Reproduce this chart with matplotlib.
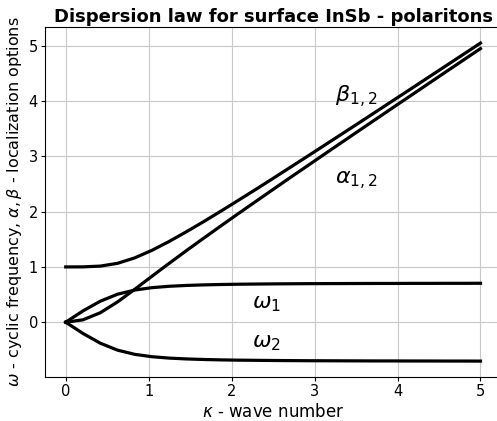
import matplotlib
matplotlib.use("Agg")
import matplotlib.pyplot as plt

# wave number samples and curves
kappa = [0.0, 0.208, 0.417, 0.625, 0.833, 1.042, 1.25, 1.458, 1.667, 1.875,
         2.083, 2.292, 2.5, 2.708, 2.917, 3.125, 3.333, 3.542, 3.75, 3.958,
         4.167, 4.375, 4.583, 4.792, 5.0]
omega1 = [0.0, 0.204, 0.380, 0.506, 0.582, 0.625, 0.650, 0.665, 0.675, 0.682,
          0.687, 0.690, 0.693, 0.695, 0.697, 0.698, 0.699, 0.700, 0.701, 0.701,
          0.702, 0.702, 0.703, 0.703, 0.704]
omega2 = [-v for v in omega1]
alpha = [0.0, 0.043, 0.171, 0.367, 0.596, 0.834, 1.068, 1.298, 1.524, 1.747,
         1.967, 2.185, 2.402, 2.618, 2.832, 3.046, 3.259, 3.472, 3.684, 3.896,
         4.107, 4.318, 4.529, 4.740, 4.950]
beta = [1.0, 1.001, 1.015, 1.065, 1.164, 1.302, 1.463, 1.639, 1.823, 2.013,
        2.207, 2.403, 2.602, 2.802, 3.004, 3.206, 3.409, 3.613, 3.817, 4.022,
        4.227, 4.433, 4.638, 4.844, 5.050]

fig = plt.figure(figsize=(4.97, 4.21), dpi=100)
# axes run slightly past the right edge, as in the cropped original
ax = fig.add_axes([0.0905, 0.1045, 0.918, 0.831])

for y in (beta, alpha, omega1, omega2):
    ax.plot(kappa, y, color="black", lw=2.3)

ax.text(3.25, 3.97, r"$\beta_{1,2}$", fontsize=16)
ax.text(3.25, 2.5, r"$\alpha_{1,2}$", fontsize=16)
ax.text(2.25, 0.25, r"$\omega_1$", fontsize=16)
ax.text(2.25, -0.46, r"$\omega_2$", fontsize=16)

ax.grid(True, color="#c8c8c8", lw=0.8)
ax.spines["right"].set_visible(False)
ax.tick_params(labelsize=10.5, length=3, pad=2)
ax.set_xticks([0, 1, 2, 3, 4, 5])
ax.set_yticks([0, 1, 2, 3, 4, 5])
ax.set_xlabel(r"$\kappa$ - wave number", fontsize=12, labelpad=3)
ax.set_ylabel(r"$\omega$ - cyclic frequency, $\alpha, \beta$ - localization options",
              fontsize=11.5, labelpad=3)
ax.set_title("Dispersion law for surface InSb - polaritons", fontsize=13,
             fontweight="bold", pad=4)

fig.savefig("out.png", dpi=100)
